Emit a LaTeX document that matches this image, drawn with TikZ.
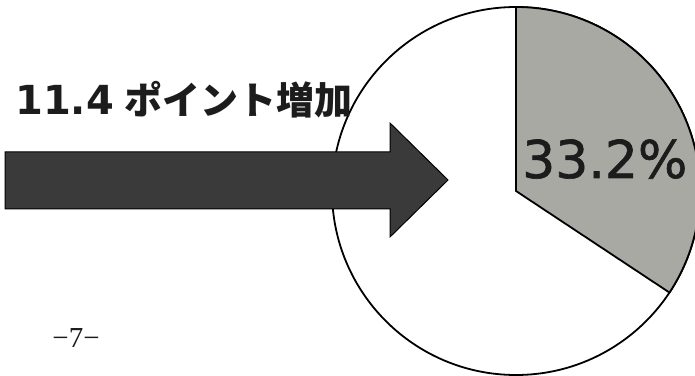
\documentclass[tikz,border=0pt]{standalone}
\usepackage{fontspec}
\usepackage{tikz}
\usetikzlibrary{positioning}
\newfontfamily\numfont{DejaVu Sans}
\newfontfamily\sharefont{DejaVu Sans}[FakeBold=1.2]
\newfontfamily\jpfont{Noto Sans CJK JP}
\newfontfamily\pagefont{Liberation Serif}
\definecolor{inkgray}{HTML}{1C1C1C}
\definecolor{arrowgray}{HTML}{3A3A3A}
\definecolor{wedgegray}{HTML}{A9A9A4}

\begin{document}
\begin{tikzpicture}[x=1pt, y=1pt,
    pieline/.style={draw=black, line width=1.8pt},
    bigtext/.style={inner sep=0pt, text=inkgray}]
    \useasboundingbox (0,0) rectangle (695,375);

    % Pie
    \coordinate (c) at (516,184);
    \draw[pieline] (c) circle (184pt);
    \filldraw[pieline, fill=wedgegray] (c) -- (516,368)
        arc[start angle=90, end angle=-33.5, radius=184pt] -- cycle;
    \node[bigtext, anchor=base west, font=\sharefont\fontsize{52}{52}\selectfont] (share) at (522,197) {33.2\%};

    % Arrow
    \filldraw[fill=arrowgray, draw=black, line width=1pt]
        (5,166) -- (390,166) -- (390,138) -- (448,195) -- (390,252) -- (390,223) -- (5,223) -- cycle;

    % Labels
    \node[bigtext, anchor=base west, font=\numfont\bfseries\fontsize{40}{40}\selectfont] (gain) at (15,260) {11.4};
    \node[bigtext, base right=10pt of gain, font=\jpfont\bfseries\fontsize{38}{38}\selectfont] (gainjp) {ポイント増加};
    \node[bigtext, anchor=base, font=\pagefont\fontsize{29}{29}\selectfont] (page) at (76,28) {−7−};
\end{tikzpicture}
\end{document}
